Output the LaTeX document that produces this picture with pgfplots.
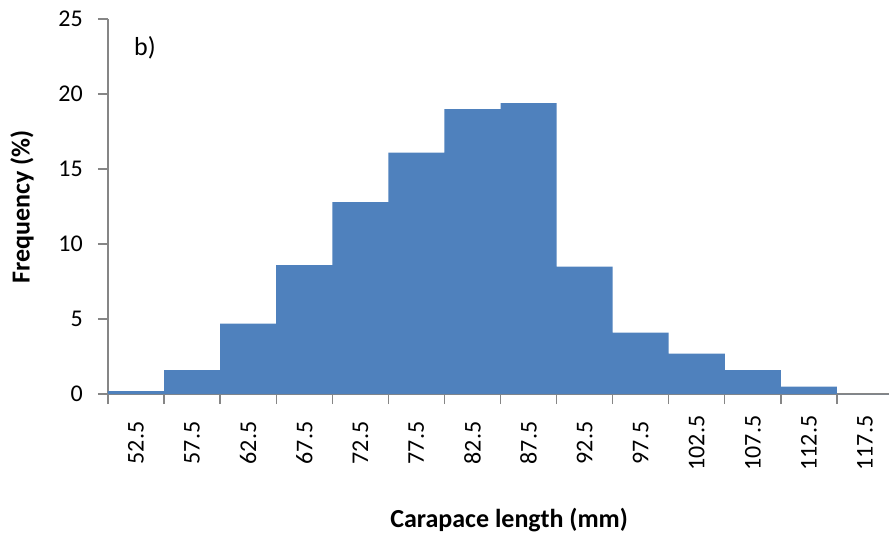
\documentclass[border=0pt]{standalone}
\usepackage{fontspec}
\setmainfont{Carlito}
\usepackage{pgfplots}
\pgfplotsset{compat=1.18}
\definecolor{barblue}{HTML}{4F81BD}
\definecolor{axgray}{HTML}{868686}
\begin{document}
\fontsize{24}{28}\selectfont
\begin{tikzpicture}
\begin{axis}[
  scale only axis, width=785pt, height=375pt,
  xmin=-0.5, xmax=13.5, ymin=0, ymax=25,
  axis x line=bottom, axis y line=left,
  axis line style={axgray, line width=1.3pt, -},
  tick style={axgray, line width=1.3pt},
  tick align=outside,
  major tick length=10pt,
  /pgf/number format/assume math mode=true,
  ytick={0,5,10,15,20,25},
  yticklabel style={font=\fontsize{24}{28}\selectfont, xshift=-7pt},
  xtick={-0.5,0.5,...,13.5},
  xticklabels={},
  extra x ticks={0,1,2,3,4,5,6,7,8,9,10,11,12,13},
  extra x tick labels={52.5,57.5,62.5,67.5,72.5,77.5,82.5,87.5,92.5,97.5,102.5,107.5,112.5,117.5},
  extra x tick style={major tick length=0pt,
    xticklabel style={font=\fontsize{24}{28}\selectfont, anchor=center, yshift=-49pt, rotate=90}},
  xlabel={\textbf{Carapace length (mm)}},
  ylabel={\textbf{Frequency (\%)}},
  xlabel style={at={(axis description cs:0.511,-0.336)}, anchor=center, font=\fontsize{26}{30}\selectfont},
  ylabel style={at={(axis description cs:-0.1096,0.5)}, anchor=center, font=\fontsize{26}{30}\selectfont},
]
\addplot[ybar, bar width=1, fill=barblue, draw=none] coordinates {
  (0,0.2) (1,1.6) (2,4.7) (3,8.6) (4,12.8) (5,16.1) (6,19.0)
  (7,19.4) (8,8.5) (9,4.1) (10,2.7) (11,1.6) (12,0.5) (13,0)
};
\node[font=\fontsize{26}{30}\selectfont] at (rel axis cs:0.0471,0.923) {b)};
\end{axis}
\pgfresetboundingbox
\path[use as bounding box] ([xshift=-108pt,yshift=-142pt]current axis.south west) rectangle ([xshift=-4pt,yshift=19pt]current axis.north east);
\end{tikzpicture}
\end{document}
